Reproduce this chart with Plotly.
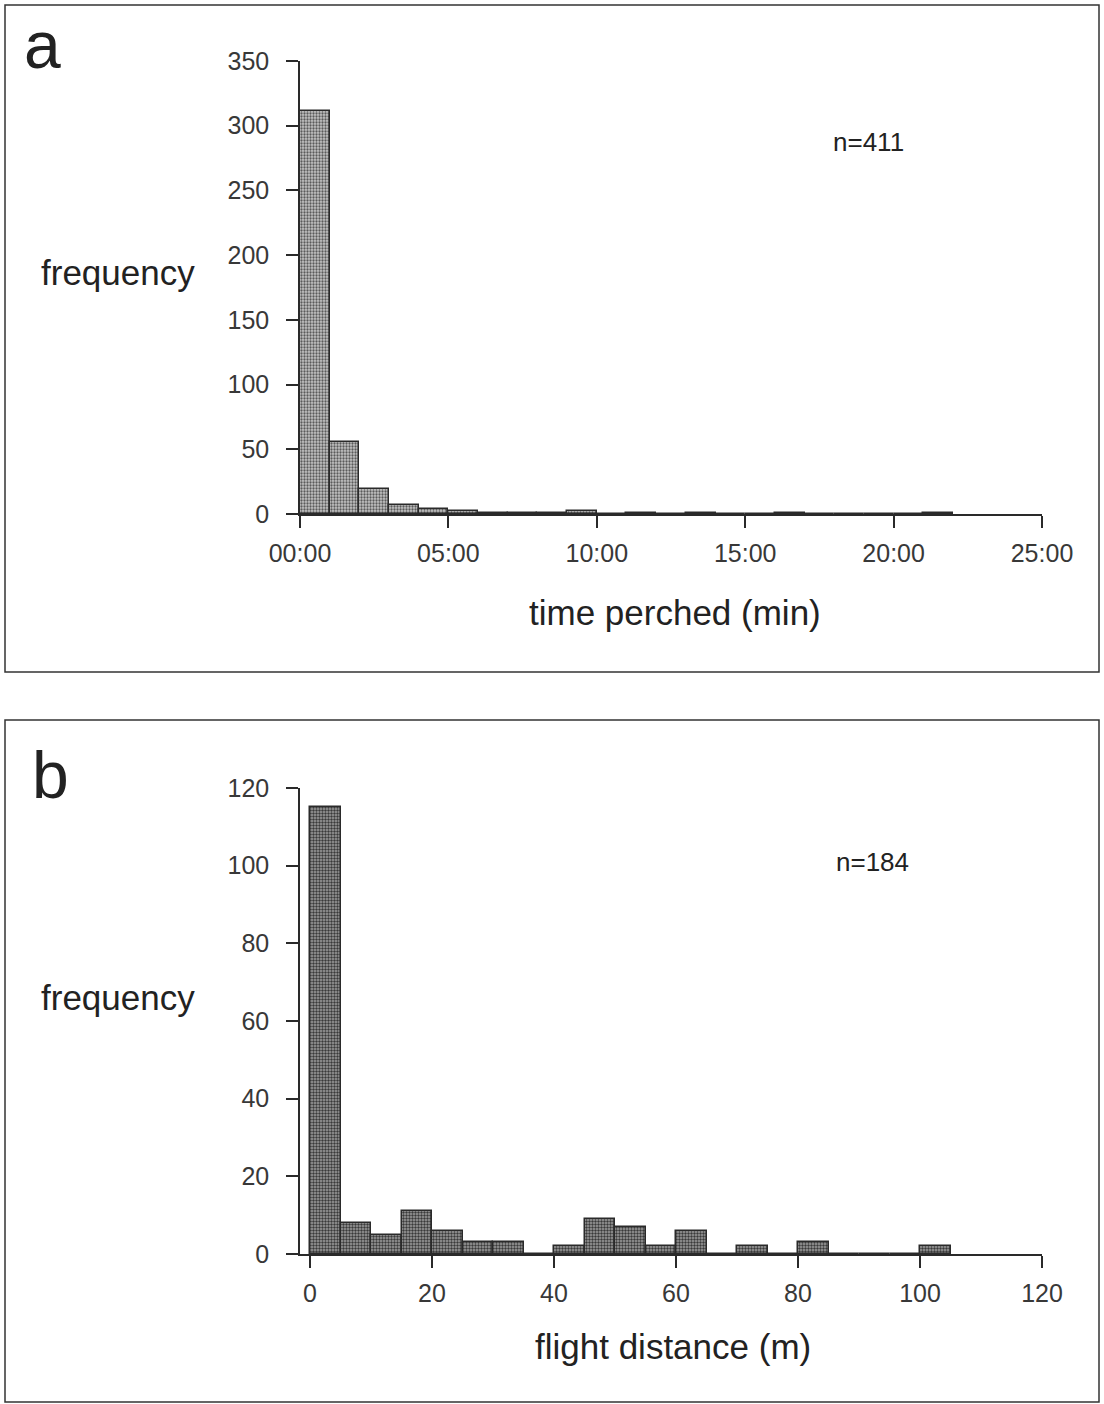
import plotly.graph_objects as go

# ---- data ----
# panel a: time perched, 1-minute bins starting at 00:00
perch_bin_width = 1
perch_counts = [311, 56, 19, 7, 4, 2, 1, 1, 1, 2, 0, 1, 0, 1, 0, 0, 1, 0, 0, 0, 0, 1]
perch_tickvals = [0, 5, 10, 15, 20, 25]
perch_ticktext = ["00:00", "05:00", "10:00", "15:00", "20:00", "25:00"]
perch_yticks = [0, 50, 100, 150, 200, 250, 300, 350]

# panel b: flight distance, 5 m bins starting at 0
flight_bin_width = 5
flight_counts = [115, 8, 5, 11, 6, 3, 3, 0, 2, 9, 7, 2, 6, 0, 2, 0, 3, 0, 0, 0, 2]
flight_tickvals = [0, 20, 40, 60, 80, 100, 120]
flight_yticks = [0, 20, 40, 60, 80, 100, 120]

W, H = 1104, 1404
FONT = "Liberation Sans, Arial, sans-serif"
INK = "#2a2a2a"

def centers(counts, w):
    return [i * w + w / 2 for i in range(len(counts))]

fig = go.Figure()
fig.add_trace(go.Bar(
    x=centers(perch_counts, perch_bin_width), y=perch_counts, width=perch_bin_width,
    xaxis="x", yaxis="y",
    marker=dict(color="#c4c4c4", line=dict(color=INK, width=1.5),
                pattern=dict(shape=".", fgcolor="#5a5a5a", bgcolor="#c4c4c4",
                             size=3, solidity=0.45, fillmode="replace")),
    showlegend=False))
fig.add_trace(go.Bar(
    x=centers(flight_counts, flight_bin_width), y=flight_counts, width=flight_bin_width,
    xaxis="x2", yaxis="y2",
    marker=dict(color="#a0a0a0", line=dict(color=INK, width=1.5),
                pattern=dict(shape=".", fgcolor="#3a3a3a", bgcolor="#a0a0a0",
                             size=3, solidity=0.5, fillmode="replace")),
    showlegend=False))

def px_x(p):
    return p / W

def px_y(p):
    return 1 - p / H

axis_common = dict(showgrid=False, zeroline=False, showline=True, linecolor=INK, linewidth=1.5,
                   ticks="outside", ticklen=12, tickwidth=1.5, tickcolor=INK,
                   tickfont=dict(family=FONT, size=25, color="#383838"), automargin=False)
x_axis_common = dict(axis_common, ticklabelstandoff=4)
y_axis_common = dict(axis_common, ticklabelstandoff=12)

fig.update_layout(
    width=W, height=H, margin=dict(l=0, r=0, t=0, b=0, pad=0, autoexpand=False),
    paper_bgcolor="white", plot_bgcolor="white", bargap=0,
    xaxis=dict(domain=[px_x(300), px_x(1042)], range=[0, 25], anchor="y",
               tickvals=perch_tickvals, ticktext=perch_ticktext, **x_axis_common),
    yaxis=dict(domain=[px_y(514), px_y(61)], range=[0, 350], anchor="x",
               tickvals=perch_yticks, **y_axis_common),
    xaxis2=dict(domain=[px_x(300), px_x(1042)], range=[-1.64, 120], anchor="y2",
                tickvals=flight_tickvals, **x_axis_common),
    yaxis2=dict(domain=[px_y(1254), px_y(788)], range=[0, 120], anchor="x2",
                tickvals=flight_yticks, **y_axis_common),
)

# panel borders
for y0, y1 in [(5, 672), (720, 1402)]:
    fig.add_shape(type="rect", xref="paper", yref="paper",
                  x0=px_x(5), x1=px_x(1099), y0=px_y(y1), y1=px_y(y0),
                  line=dict(color="#333", width=1.5))

def label(text, x, y, size, xanchor="center"):
    fig.add_annotation(text=text, xref="paper", yref="paper", x=px_x(x), y=px_y(y),
                       xanchor=xanchor, yanchor="middle", showarrow=False,
                       font=dict(family=FONT, size=size, color="#222"))

label("a", 42, 45, 66)
label("b", 50, 775, 66)
label("frequency", 118, 273, 35)
label("frequency", 118, 997, 35)
label("n=411", 868, 142, 26)
label("n=184", 872, 862, 26)
label("time perched (min)", 675, 612, 35)
label("flight distance (m)", 673, 1346, 35)

fig.write_html("out.html")
